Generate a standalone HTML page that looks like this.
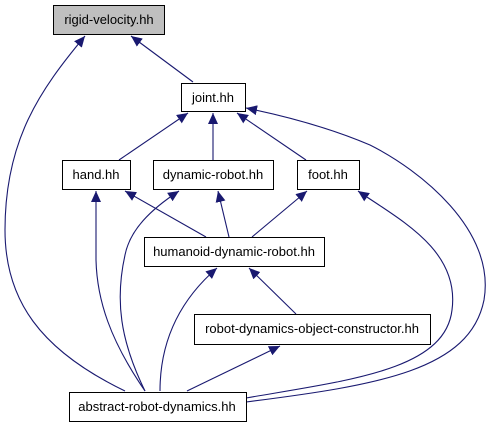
<!DOCTYPE html>
<html><head><style>
html,body{margin:0;padding:0;background:#fff;}
svg{display:block;}
text{font-family:"Liberation Sans",sans-serif;font-size:13px;fill:#000;}
</style></head><body>
<svg width="488" height="427" viewBox="0 0 488 427" xmlns="http://www.w3.org/2000/svg">
<defs>
<marker id="a" markerWidth="12" markerHeight="10" refX="11" refY="5" orient="auto" markerUnits="userSpaceOnUse">
<path d="M0,0 L11,5 L0,10 Z" fill="#191970"/>
</marker>
</defs>
<g fill="none" stroke="#191970" stroke-width="1.1" marker-end="url(#a)">
<path d="M193,82 L131,36"/>
<path d="M125,391 C40,350 5,300 5,230 C5,140 40,90 85,36"/>
<path d="M119,160 L188,113"/>
<path d="M213,160 L213,113"/>
<path d="M306,160 L237,113"/>
<path d="M246,402 C380,385 470,370 484,300 C496,230 420,170 370,145 C330,128 290,117 246,108"/>
<path d="M206,237 L125,191"/>
<path d="M145,391 C110,340 97,300 96,260 L96,191"/>
<path d="M229,237 L218,191"/>
<path d="M145,391 C120,340 115,300 125,255 C130,230 150,210 179,191"/>
<path d="M252,237 L307,191"/>
<path d="M246,398 C350,380 445,370 452,310 C460,250 400,220 358,191"/>
<path d="M160,391 C160,340 180,300 217,268"/>
<path d="M296,314 L249,268"/>
<path d="M187,391 L280,346"/>
</g>
<g stroke-width="1" stroke="#000">
<rect x="53.5" y="5.5" width="111" height="29" fill="#bfbfbf"/>
<rect x="181.5" y="83.5" width="64" height="28" fill="#fff"/>
<rect x="62.5" y="160.5" width="68" height="29" fill="#fff"/>
<rect x="153.5" y="160.5" width="120" height="29" fill="#fff"/>
<rect x="297.5" y="160.5" width="62" height="29" fill="#fff"/>
<rect x="144.5" y="237.5" width="180" height="29" fill="#fff"/>
<rect x="194.5" y="314.5" width="236" height="30" fill="#fff"/>
<rect x="69.5" y="392.5" width="177" height="29" fill="#fff"/>
</g>
<text x="109" y="24" text-anchor="middle">rigid-velocity.hh</text>
<text x="213" y="102" text-anchor="middle">joint.hh</text>
<text x="96" y="179" text-anchor="middle">hand.hh</text>
<text x="213" y="179" text-anchor="middle">dynamic-robot.hh</text>
<text x="328" y="179" text-anchor="middle">foot.hh</text>
<text x="234" y="256" text-anchor="middle">humanoid-dynamic-robot.hh</text>
<text x="312" y="333" text-anchor="middle">robot-dynamics-object-constructor.hh</text>
<text x="157" y="411" text-anchor="middle">abstract-robot-dynamics.hh</text>
</svg>
</body></html>
